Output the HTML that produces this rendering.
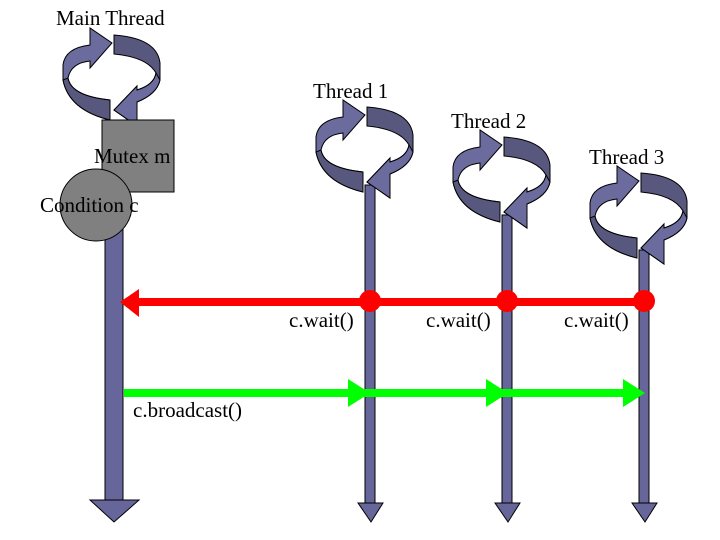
<!DOCTYPE html>
<html><head><style>body{margin:0;background:#fff}svg{display:block}text{font-family:"Liberation Serif",serif;font-size:21px}</style></head><body>
<svg width="720" height="540" viewBox="0 0 720 540" xmlns="http://www.w3.org/2000/svg">
<defs>
<g id="cyc" stroke="#000" stroke-width="1">
<path d="M43,17 Q18,20 16,37 L16,52 Q22,82 63,92 L63,72 Q24,68 21,50 Q24,35 43,33 L43,40 L65,15 L43,0 Z" fill="#6b6b9e"/>
<path d="M16,52 Q22,82 63,92 L63,72 Q24,68 21,50 Z" fill="#58587f"/>
<path d="M67,7 Q110,10 113,35 L113,52 Q110,66 90,74 L90,98 L67,82 L90,58 L90,62 Q107,57 109,45 Q100,29 67,26 Z" fill="#58587f"/>
<path d="M90,74 L90,98 L67,82 L90,58 L90,62 Q107,57 109,45 L113,52 Q110,66 90,74 Z" fill="#6b6b9e"/>
</g>
</defs>
<g fill="#66669a" stroke="#000" stroke-width="1">
<rect x="105" y="180" width="18" height="321"/>
<polygon points="90,500 139,500 114,522"/>
<rect x="365" y="185" width="10" height="319"/>
<polygon points="358,503 383,503 371,522"/>
<rect x="502" y="215" width="10" height="289"/>
<polygon points="495,503 520,503 508,522"/>
<rect x="639" y="250" width="10" height="254"/>
<polygon points="632,503 657,503 645,522"/>
</g>
<use href="#cyc" transform="translate(47,28)"/>
<use href="#cyc" transform="translate(300,100)"/>
<use href="#cyc" transform="translate(437,130)"/>
<use href="#cyc" transform="translate(574,166)"/>
<rect x="102" y="120" width="72" height="72" fill="#808080" stroke="#000"/>
<circle cx="96" cy="205" r="36" fill="#808080" stroke="#000"/>
<text x="56" y="25">Main Thread</text>
<text x="94" y="163">Mutex m</text>
<text x="40" y="212">Condition c</text>
<text x="313" y="98">Thread 1</text>
<text x="451" y="128">Thread 2</text>
<text x="589" y="164">Thread 3</text>
<rect x="136" y="298" width="510" height="8" fill="#ff0000"/>
<polygon points="120,302 139,289 139,317" fill="#ff0000"/>
<circle cx="370" cy="301" r="11" fill="#ff0000"/>
<circle cx="507" cy="301" r="11" fill="#ff0000"/>
<circle cx="644" cy="301" r="11" fill="#ff0000"/>
<text x="289" y="327">c.wait()</text>
<text x="426" y="327">c.wait()</text>
<text x="564" y="327">c.wait()</text>
<rect x="124" y="389" width="500" height="8" fill="#00ff00"/>
<polygon points="348,379 370,393 348,407" fill="#00ff00"/>
<polygon points="486,379 508,393 486,407" fill="#00ff00"/>
<polygon points="623,379 645,393 623,407" fill="#00ff00"/>
<text x="133" y="417">c.broadcast()</text>
</svg>
</body></html>
